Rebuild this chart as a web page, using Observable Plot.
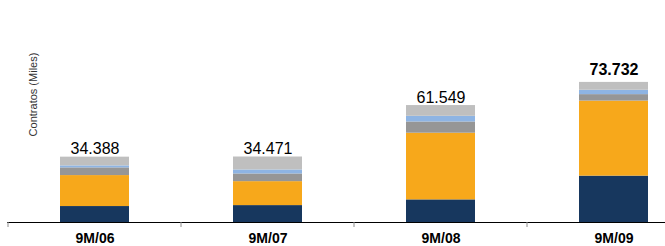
<!DOCTYPE html>
<html>
<head>
<meta charset="utf-8">
<script src="https://cdn.jsdelivr.net/npm/d3@7"></script>
<script src="https://cdn.jsdelivr.net/npm/@observablehq/plot@0.6"></script>
<style>
  html, body { margin: 0; padding: 0; background: #fff; }
  #chart { width: 665px; height: 246px; }
</style>
</head>
<body>
<div id="chart"></div>
<script>
// Categories (periods)
const categories = ["9M/06", "9M/07", "9M/08", "9M/09"];
// Series (bottom to top) and their values in thousands of contracts
const seriesNames = ["Serie 1", "Serie 2", "Serie 3", "Serie 4", "Serie 5"];
const serie1 = [8.4, 8.9, 11.9, 24.4];
const serie2 = [16.3, 12.6, 35.1, 39.5];
const serie3 = [4.05, 4.05, 5.9, 3.4];
const serie4 = [1.05, 2.1, 3.0, 2.3];
const serie5 = [4.588, 6.821, 5.649, 4.132];
// Totals and their labels
const totals = [34.388, 34.471, 61.549, 73.732];
const totalLabels = ["34.388", "34.471", "61.549", "73.732"];
const colors = ["#17375e", "#f7a81b", "#969696", "#8eb4e3", "#bfbfbf"];
const yLabel = "Contratos (Miles)";

const seriesValues = [serie1, serie2, serie3, serie4, serie5];
const rows = [];
categories.forEach((c, i) => {
  seriesNames.forEach((s, j) => rows.push({cat: c, series: s, value: seriesValues[j][i]}));
});
const totalRows = categories.map((c, i) => ({cat: c, total: totals[i], label: totalLabels[i]}));
const last = totalRows.length - 1;

const font = "'Liberation Sans', Arial, Helvetica, sans-serif";

function boundaryTicks(index, scales) {
  const x = scales.x;
  const bw = typeof x.bandwidth === "function" ? x.bandwidth() : x.bandwidth;
  const centers = categories.map(c => x(c) + bw / 2);
  const step = centers[1] - centers[0];
  const y0 = scales.y(0);
  const g = d3.create("svg:g").attr("stroke", "#8c8c8c").attr("stroke-width", 1);
  centers.forEach(cx => {
    g.append("line")
      .attr("x1", cx - step / 2).attr("x2", cx - step / 2)
      .attr("y1", y0).attr("y2", y0 + 5);
  });
  return g.node();
}

const plot = Plot.plot({
  width: 665,
  height: 246,
  marginTop: 0,
  marginBottom: 24,
  marginLeft: 7,
  marginRight: 0,
  style: {fontFamily: font, background: "#fff", color: "#000"},
  x: {domain: categories, range: [7, 701.6], paddingInner: 0.6, paddingOuter: 0.3, axis: null, label: null},
  y: {domain: [0, 100], range: [222, 32], axis: null},
  color: {domain: seriesNames, range: colors},
  marks: [
    Plot.barY(rows, {x: "cat", y: "value", fill: "series", order: seriesNames}),
    Plot.ruleY([0], {stroke: "#000", strokeWidth: 1.2}),
    boundaryTicks,
    Plot.axisX({tickSize: 0, tickPadding: 11, fontSize: 14, fontWeight: "bold", fill: "#000", label: null}),
    Plot.text(totalRows.filter((d, i) => i < last), {
      x: "cat", y: "total", text: "label", dy: -8, fontSize: 16, fill: "#000", lineAnchor: "middle"
    }),
    Plot.text(totalRows.filter((d, i) => i === last), {
      x: "cat", y: "total", text: "label", dy: -13, fontSize: 16, fontWeight: "bold", fill: "#000", lineAnchor: "middle"
    }),
    Plot.text([yLabel], {
      text: d => d, frameAnchor: "left", textAnchor: "middle", lineAnchor: "middle",
      rotate: -90, dx: 26, dy: -17, fontSize: 11, fill: "#333"
    })
  ]
});
document.getElementById("chart").appendChild(plot);
</script>
</body>
</html>
